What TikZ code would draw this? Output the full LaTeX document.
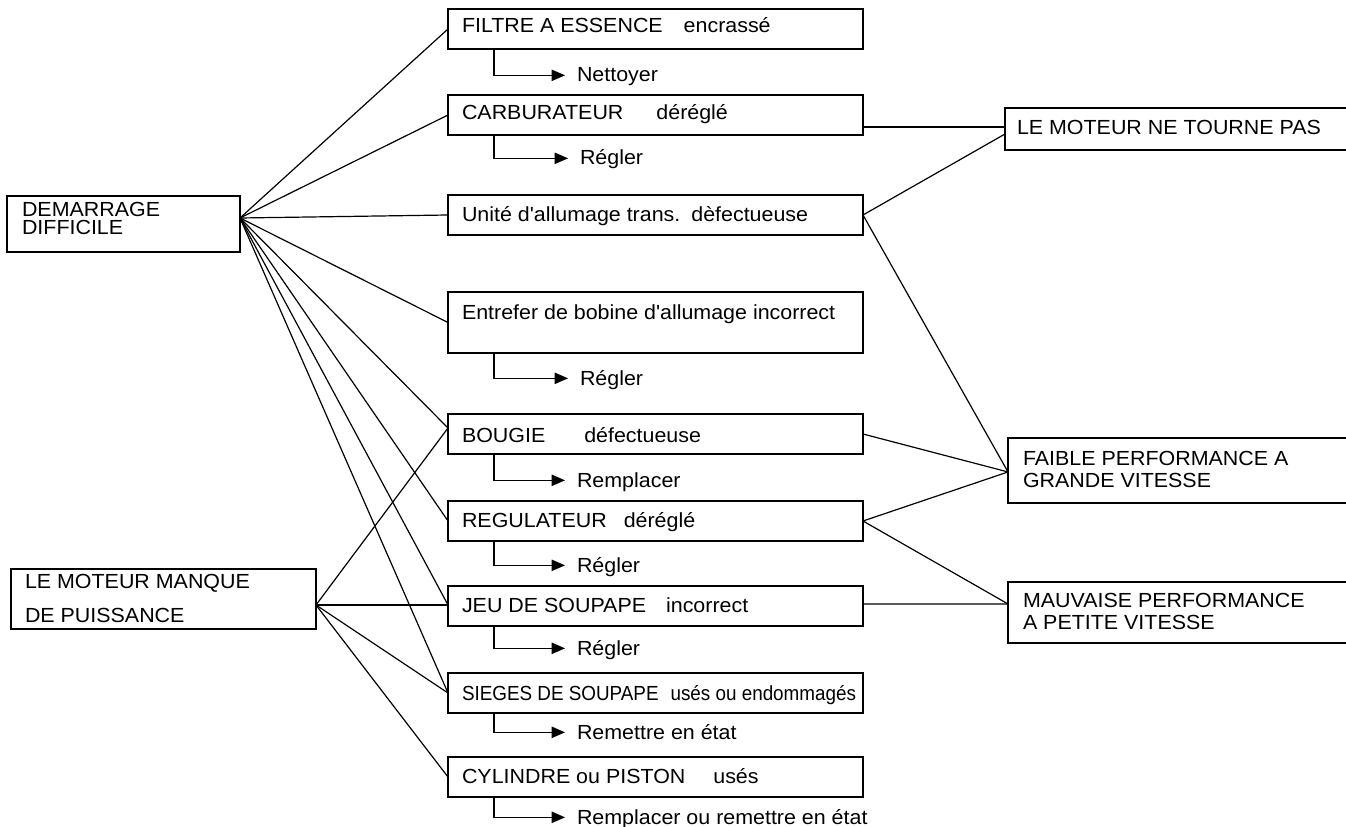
\documentclass[tikz,border=0pt]{standalone}
\usepackage{fontspec}
\setmainfont{Liberation Sans}[FakeStretch=1.05,Ligatures=TeXOff]
\usetikzlibrary{arrows.meta,calc}
\begin{document}
\begin{tikzpicture}[x=0.75pt,y=-0.75pt,line width=0.9pt,
  every node/.style={font=\fontsize{15.3pt}{18pt}\selectfont},
  box/.style={draw, anchor=north west, inner sep=0pt, outer sep=0pt},
  midbox/.style={box, minimum width=311.25pt, minimum height=30pt},
  txt/.style={anchor=base west, inner sep=0pt, outer sep=0pt},
  todo/.style={-{Triangle[length=10pt,width=8.5pt]}},
  link/.style={line join=round}]

\useasboundingbox (0,0) rectangle (1346,827);

% ---------- left boxes
\node[box, minimum width=174.75pt, minimum height=42pt] (dem) at (7,196) {};
\node[txt, font=\fontsize{15.3pt}{13.5pt}\selectfont] (demT) at (22,217)
  {\begin{tabular}[t]{@{}l@{}}DEMARRAGE\\[-1.5pt]DIFFICILE\end{tabular}};
\node[box, minimum width=228.75pt, minimum height=45pt] (man) at (11,569) {};
\node[txt, font=\fontsize{15.3pt}{25.5pt}\selectfont] (manT) at (25,588)
  {\begin{tabular}[t]{@{}l@{}}LE MOTEUR MANQUE\\DE PUISSANCE\end{tabular}};

% ---------- middle boxes
\node[midbox] (fil) at (448,9) {};
\node[txt] (filT) at (462,33) {FILTRE A ESSENCE\hspace{15.75pt}encrassé};
\node[midbox] (car) at (448,95) {};
\node[txt] (carT) at (462,120) {CARBURATEUR\hspace{24.75pt}déréglé};
\node[midbox] (uni) at (448,195) {};
\node[txt] (uniT) at (462,222) {Unité d'allumage trans.\hspace{8.25pt}dèfectueuse};
\node[midbox, minimum height=45.75pt] (ent) at (448,292) {};
\node[txt] (entT) at (462,320) {Entrefer de bobine d'allumage incorrect};
\node[midbox] (bou) at (448,414) {};
\node[txt] (bouT) at (462,442) {BOUGIE\hspace{29.25pt}défectueuse};
\node[midbox] (reg) at (448,501) {};
\node[txt] (regT) at (462,527) {REGULATEUR\hspace{12.75pt}déréglé};
\node[midbox] (jeu) at (448,586) {};
\node[txt] (jeuT) at (462,612) {JEU DE SOUPAPE\hspace{15pt}incorrect};
\node[midbox] (sie) at (448,673) {};
\node[txt] (sieT) at (462,700) {\scalebox{0.88}[1]{SIEGES DE SOUPAPE\hspace{10.2pt}usés ou endommagés}};
\node[midbox] (cyl) at (448,757) {};
\node[txt] (cylT) at (462,783) {CYLINDRE ou PISTON\hspace{21pt}usés};

% ---------- right boxes
\node[box, minimum width=270pt, minimum height=31.5pt] (mnt) at (1005,108) {};
\node[txt] (mntT) at (1017,135) {LE MOTEUR NE TOURNE PAS};
\node[box, minimum width=270pt, minimum height=48.75pt] (fai) at (1008,438) {};
\node[txt, font=\fontsize{15.3pt}{16.5pt}\selectfont] (faiT) at (1023,465)
  {\begin{tabular}[t]{@{}l@{}}FAIBLE PERFORMANCE A\\GRANDE VITESSE\end{tabular}};
\node[box, minimum width=270pt, minimum height=45.75pt] (mau) at (1008,582) {};
\node[txt, font=\fontsize{15.3pt}{16.5pt}\selectfont] (mauT) at (1023,607)
  {\begin{tabular}[t]{@{}l@{}}MAUVAISE PERFORMANCE\\A PETITE VITESSE\end{tabular}};

% ---------- action texts
\node[txt] (aFil) at (577,82) {Nettoyer};
\node[txt] (aCar) at (580,165) {Régler};
\node[txt] (aEnt) at (580,385) {Régler};
\node[txt] (aBou) at (577,487) {Remplacer};
\node[txt] (aReg) at (577,572) {Régler};
\node[txt] (aJeu) at (577,655) {Régler};
\node[txt] (aSie) at (577,739) {Remettre en état};
\node[txt] (aCyl) at (577,824) {Remplacer ou remettre en état};

% ---------- ports
\coordinate (demP) at ([yshift=4.5pt]dem.east);
\coordinate (manP) at ([yshift=-4.5pt]man.east);
\coordinate (bouL) at ([yshift=4.5pt]bou.west);
\coordinate (carR) at ([yshift=-9pt]car.east);
\coordinate (mntA) at ([yshift=1.5pt]mnt.west);
\coordinate (mntB) at ([yshift=-3.75pt]mnt.west);
\coordinate (jeuR) at ([yshift=1.5pt]jeu.east);
\coordinate (jeuL) at ([yshift=0.75pt]jeu.west);
\coordinate (mauP) at ([yshift=6.4pt]mau.west);
\coordinate (faiP) at ([yshift=-1.1pt]fai.west);

% ---------- connectors from the left
\foreach \t in {fil.west,car.west,uni.west,ent.west,bouL,reg.west,jeuL,sie.west}
  \draw[link] (demP) -- (\t);
\foreach \t in {bouL,jeuL,sie.west,cyl.west}
  \draw[link] (manP) -- (\t);

% ---------- connectors to the right
\draw[link] (carR) -- (mntA);
\draw[link] (uni.east) -- (mntB);
\draw[link] (uni.east) -- (faiP);
\draw[link] (bou.east) -- (faiP);
\draw[link] (reg.east) -- (faiP);
\draw[link] (reg.east) -- (mauP);
\draw[link] (jeuR) -- (mauP);

% ---------- action arrows
\foreach \b/\a in {fil/aFil,car/aCar,ent/aEnt,bou/aBou,reg/aReg,jeu/aJeu,sie/aSie,cyl/aCyl}
  \draw[todo] ($(\b.south west)+(46,0)$) |- ([xshift=-9pt,yshift=5pt]\a.base west);
\end{tikzpicture}
\end{document}
